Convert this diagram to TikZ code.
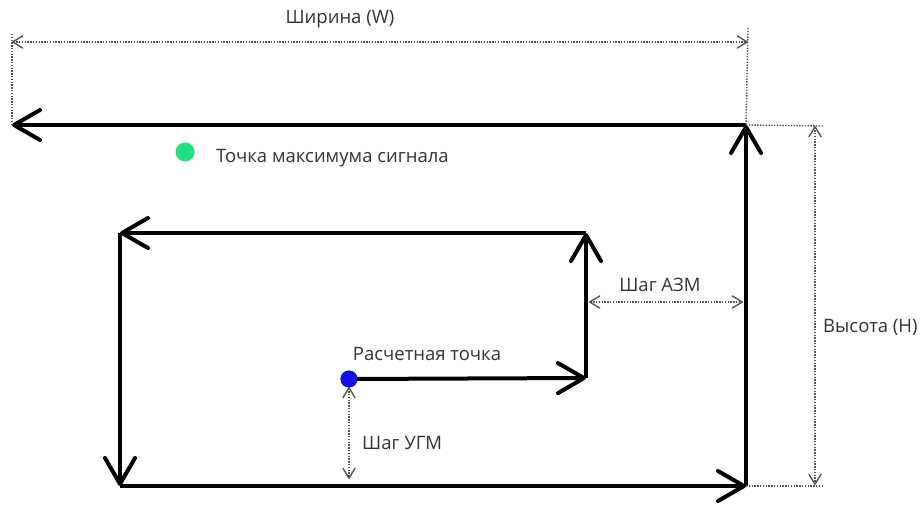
\documentclass[tikz,border=0pt]{standalone}
\usepackage{fontspec}
\setmainfont{Open Sans}
\usetikzlibrary{arrows.meta}
\definecolor{txt}{HTML}{333333}
\definecolor{dimc}{HTML}{555555}
\definecolor{greendot}{HTML}{1FE27E}
\definecolor{bluedot}{HTML}{1010E6}
\begin{document}
\begin{tikzpicture}[x=1pt,y=-1pt,
  route/.style={line width=4pt, line join=round,
    -{Straight Barb[length=26pt,width=30pt,line width=4pt,round]}},
  dimline/.style={draw=dimc, line width=1.4pt, dash pattern=on 1.4pt off 1.4pt},
  dimarr/.style={dimline, {Straight Barb[length=10pt,width=12pt,line width=1.4pt,round]}-{Straight Barb[length=10pt,width=12pt,line width=1.4pt,round]}},
  lbl/.style={text=txt, font=\fontsize{18.5}{21}\selectfont, inner sep=0pt},
  dot/.style={circle, inner sep=0pt, minimum size=#1}
]
\useasboundingbox (0,0) rectangle (920,526);
% spiral corners
\node[dot=17pt, fill=bluedot] (calc) at (349,379) {};
\coordinate (c1) at (586,378);
\coordinate (c2) at (586,233);
\coordinate (c3) at (120,233);
\coordinate (c4) at (120,486);
\coordinate (c5) at (746,486);
\coordinate (c6) at (746,125);
\coordinate (c7) at (12,125);
\draw[route] (calc.center) -- (c1);
\draw[route] (c1) -- (c2);
\draw[route] (c2) -- (c3);
\draw[route] (c3) -- (c4);
\draw[route] (c4) -- (c5);
\draw[route] (c5) -- (c6);
\draw[route] (c6) -- (c7);
\node[dot=17pt, fill=bluedot] at (349,379) {};
% width dimension
\coordinate (wl) at (12,42);
\coordinate (wr) at (748,42);
\coordinate (wlt) at (12,34);
\coordinate (wrt) at (748,28);
\draw[dimline] (wlt) -- (c7);
\draw[dimline] (wrt) -- (c6);
\draw[dimarr] (wl) -- (wr);
\node[lbl] (wlab) at (340,19) {Ширина (W)};
% height dimension
\coordinate (ht) at (815,126);
\coordinate (hb) at (815,485);
\coordinate (hte) at (823,126);
\coordinate (hbe) at (823,486);
\draw[dimline] (c6) -- (hte);
\draw[dimline] (c5) -- (hbe);
\draw[dimarr] (ht) -- (hb);
\node[lbl, anchor=west] (hlab) at (823,327) {Высота (H)};
% AZM step
\coordinate (al) at (589,302);
\coordinate (ar) at (743,302);
\draw[dimarr] (al) -- (ar);
\node[lbl] (alab) at (660,285) {Шаг АЗМ};
% UGM step
\coordinate (ut) at (349,387);
\coordinate (ub) at (349,479);
\draw[dimarr] (ut) -- (ub);
\node[lbl, anchor=west] (ulab) at (362,443) {Шаг УГМ};
% points
\node[dot=19pt, fill=greendot] (maxp) at (185,152) {};
\node[lbl, anchor=west] (maxlab) at (216,158) {Точка максимума сигнала};
\node[lbl] (calclab) at (427,354) {Расчетная точка};
\end{tikzpicture}
\end{document}
